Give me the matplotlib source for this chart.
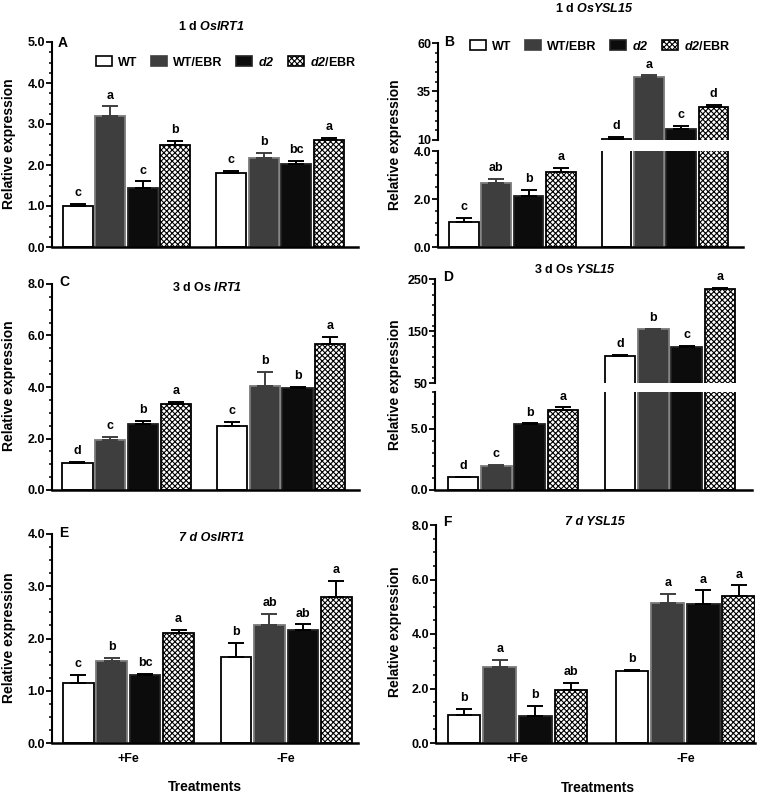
import matplotlib
matplotlib.use('Agg')
import matplotlib.pyplot as plt
from matplotlib.ticker import MultipleLocator, FixedLocator, FormatStrFormatter
from matplotlib.patches import Patch

plt.rcParams['font.family'] = ['Liberation Sans', 'DejaVu Sans']
plt.rcParams['font.weight'] = 'bold'
plt.rcParams['mathtext.fontset'] = 'custom'
plt.rcParams['mathtext.rm'] = 'Liberation Sans:bold'
plt.rcParams['mathtext.it'] = 'Liberation Sans:bold:italic'
plt.rcParams['mathtext.sf'] = 'Liberation Sans:bold:italic'
plt.rcParams['mathtext.bf'] = 'Liberation Sans:bold'
plt.rcParams['hatch.linewidth'] = 0.8

# ---------------- data ----------------
groups = ['+Fe', '-Fe']
series = ['WT', 'WT/EBR', 'd2', 'd2/EBR']
series_labels = ['WT', 'WT/EBR', r'$\mathsf{d2}$', r'$\mathsf{d2}$/EBR']

# order: +Fe (WT, WT/EBR, d2, d2/EBR), -Fe (WT, WT/EBR, d2, d2/EBR)
A_mean = [1.00, 3.20, 1.45, 2.50, 1.80, 2.18, 2.03, 2.60]
A_err = [0.05, 0.23, 0.15, 0.08, 0.05, 0.12, 0.07, 0.06]
A_let = ['c', 'a', 'c', 'b', 'c', 'b', 'bc', 'a']

B_mean = [1.05, 2.65, 2.13, 3.12, 10.4, 42.6, 15.7, 27.2]
B_err = [0.15, 0.17, 0.25, 0.18, 1.4, 0.7, 1.7, 0.7]
B_let = ['c', 'ab', 'b', 'a', 'd', 'a', 'c', 'd']

C_mean = [1.06, 1.94, 2.55, 3.35, 2.50, 4.05, 3.96, 5.68]
C_err = [0.04, 0.13, 0.14, 0.08, 0.15, 0.54, 0.05, 0.27]
C_let = ['d', 'c', 'b', 'a', 'c', 'b', 'b', 'a']

D_mean = [1.03, 1.97, 5.38, 6.54, 102.3, 153.9, 119.7, 230.6]
D_err = [0.05, 0.08, 0.05, 0.20, 1.5, 0.6, 2.0, 2.5]
D_let = ['d', 'c', 'b', 'a', 'd', 'b', 'c', 'a']

E_mean = [1.14, 1.57, 1.31, 2.11, 1.64, 2.25, 2.16, 2.79]
E_err = [0.16, 0.05, 0.02, 0.06, 0.27, 0.22, 0.11, 0.32]
E_let = ['c', 'b', 'bc', 'a', 'b', 'ab', 'ab', 'a']

F_mean = [1.02, 2.78, 0.99, 1.95, 2.65, 5.13, 5.09, 5.39]
F_err = [0.24, 0.28, 0.36, 0.26, 0.04, 0.35, 0.51, 0.39]
F_let = ['b', 'a', 'b', 'ab', 'b', 'a', 'a', 'a']

# ---------------- style ----------------
FACE = ['white', '#3e3e3e', '#0c0c0c', 'white']
EDGE = ['black', '#7a7a7a', '#222222', 'black']
HATCH = [None, None, None, 'xxxxxx']
ERRC = ['black', '#3e3e3e', 'black', 'black']
PITCH = 0.212
WIDTH = 0.195
OFFS = [(-1.5 + i) * PITCH for i in range(4)]
FS = 9

W, H = 771, 795
fig = plt.figure(figsize=(W / 100, H / 100), dpi=100)


def ax_at(l, t, r, b):
    return fig.add_axes([l / W, 1 - b / H, (r - l) / W, (b - t) / H])


def style(ax, bottom=True):
    for s in ['top', 'right']:
        ax.spines[s].set_visible(False)
    ax.spines['left'].set_linewidth(1.5)
    ax.spines['bottom'].set_linewidth(1.8)
    if not bottom:
        ax.spines['bottom'].set_visible(False)
    ax.tick_params(axis='y', which='major', direction='out', length=4, width=1.3,
                   labelsize=FS, pad=1)
    ax.tick_params(axis='y', which='minor', direction='out', length=2.5, width=1.1)
    ax.tick_params(axis='x', which='both', length=0, labelbottom=False)
    ax.set_facecolor('none')


def draw(ax, mean, err):
    for g in range(2):
        for s in range(4):
            i = g * 4 + s
            x = g + OFFS[s]
            ax.bar(x, mean[i], width=WIDTH, color=FACE[s], edgecolor=EDGE[s],
                   hatch=HATCH[s], linewidth=1.3, zorder=2)
            ax.errorbar(x, mean[i], yerr=[[0], [err[i]]], fmt='none', ecolor=ERRC[s],
                        elinewidth=1.4, capsize=6, capthick=1.4, zorder=3)


def letters(ax, mean, err, let, idx, off=3.5):
    for i in idx:
        g, s = divmod(i, 4)
        x = g + OFFS[s]
        ax.annotate(let[i], (x, mean[i] + err[i]), xytext=(0, off),
                    textcoords='offset points', ha='center', va='bottom',
                    fontsize=FS, fontweight='bold')


def ylab(x, y):
    fig.text(x / W, 1 - y / H, 'Relative expression', rotation=90, ha='center',
             va='center', fontsize=10, fontweight='bold')


def ftext(x, y, s, **kw):
    fig.text(x / W, 1 - y / H, s, ha=kw.pop('ha', 'center'), va='center',
             fontsize=kw.pop('fontsize', FS), fontweight='bold', **kw)


ALL = range(8)

# ---------------- A ----------------
axA = ax_at(52, 42, 358, 247)
style(axA)
draw(axA, A_mean, A_err)
letters(axA, A_mean, A_err, A_let, ALL)
axA.set_xlim(-0.485, 1.508)
axA.set_ylim(0, 5)
axA.yaxis.set_major_locator(MultipleLocator(1))
axA.yaxis.set_minor_locator(MultipleLocator(0.25))
axA.yaxis.set_major_formatter(FormatStrFormatter('%.1f'))

# ---------------- B (broken) ----------------
axBu = ax_at(438, 43, 743, 140)
axBl = ax_at(438, 151, 743, 247)
style(axBu, bottom=False)
style(axBl)
for ax in (axBu, axBl):
    draw(ax, B_mean, B_err)
    ax.set_xlim(-0.487, 1.511)
axBu.set_ylim(10, 60)
axBu.yaxis.set_major_locator(FixedLocator([10, 35, 60]))
axBu.yaxis.set_minor_locator(MultipleLocator(5))
axBu.yaxis.set_major_formatter(FormatStrFormatter('%d'))
axBl.set_ylim(0, 4)
axBl.yaxis.set_major_locator(MultipleLocator(2))
axBl.yaxis.set_minor_locator(MultipleLocator(0.5))
axBl.yaxis.set_major_formatter(FormatStrFormatter('%.1f'))
letters(axBl, B_mean, B_err, B_let, range(4))
letters(axBu, B_mean, B_err, B_let, range(4, 8))

# ---------------- C ----------------
axC = ax_at(52, 284, 359, 490)
style(axC)
draw(axC, C_mean, C_err)
letters(axC, C_mean, C_err, C_let, ALL)
axC.set_xlim(-0.483, 1.504)
axC.set_ylim(0, 8)
axC.yaxis.set_major_locator(MultipleLocator(2))
axC.yaxis.set_minor_locator(MultipleLocator(0.5))
axC.yaxis.set_major_formatter(FormatStrFormatter('%.1f'))

# ---------------- D (broken) ----------------
axDu = ax_at(435, 279, 752, 383)
axDl = ax_at(435, 392, 752, 490)
style(axDu, bottom=False)
style(axDl)
for ax in (axDu, axDl):
    draw(ax, D_mean, D_err)
    ax.set_xlim(-0.497, 1.522)
axDu.set_ylim(50, 250)
axDu.yaxis.set_major_locator(FixedLocator([50, 150, 250]))
axDu.yaxis.set_minor_locator(MultipleLocator(20))
axDu.yaxis.set_major_formatter(FormatStrFormatter('%d'))
axDl.set_ylim(0, 8)
axDl.yaxis.set_major_locator(FixedLocator([0, 5]))
axDl.yaxis.set_minor_locator(MultipleLocator(1))
axDl.yaxis.set_major_formatter(FormatStrFormatter('%.1f'))
letters(axDl, D_mean, D_err, D_let, range(4))
letters(axDu, D_mean, D_err, D_let, range(4, 8))

# ---------------- E ----------------
axE = ax_at(52, 534, 358, 743)
style(axE)
draw(axE, E_mean, E_err)
letters(axE, E_mean, E_err, E_let, ALL)
axE.set_xlim(-0.484, 1.455)
axE.set_ylim(0, 4)
axE.yaxis.set_major_locator(MultipleLocator(1))
axE.yaxis.set_minor_locator(MultipleLocator(0.25))
axE.yaxis.set_major_formatter(FormatStrFormatter('%.1f'))

# ---------------- F ----------------
axF = ax_at(436, 525, 755, 743)
style(axF)
draw(axF, F_mean, F_err)
letters(axF, F_mean, F_err, F_let, ALL)
axF.set_xlim(-0.485, 1.414)
axF.set_ylim(0, 8)
axF.yaxis.set_major_locator(MultipleLocator(2))
axF.yaxis.set_minor_locator(MultipleLocator(0.5))
axF.yaxis.set_major_formatter(FormatStrFormatter('%.1f'))

for ax in (axE, axF):
    ax.set_xticks([0, 1])
    ax.set_xticklabels(groups)
    ax.tick_params(axis='x', labelbottom=True, labelsize=FS, pad=7)

# ---------------- text ----------------
ylab(9, 144)
ylab(9, 386)
ylab(9, 638)
ylab(395, 145)
ylab(395, 385)
ylab(395, 632)

ftext(211, 26, r'1 d $\mathsf{OsIRT1}$')
ftext(594, 8, r'1 d $\mathsf{OsYSL15}$')
ftext(207, 288, r'3 d Os $\mathsf{IRT1}$')
ftext(575, 270, r'3 d Os $\mathsf{YSL15}$')
ftext(212, 538, '7 d OsIRT1', style='italic')
ftext(595, 522, '7 d YSL15', style='italic')

for lab, x, y in [('A', 58, 43), ('B', 444, 42), ('C', 59, 282),
                  ('D', 443, 277), ('E', 59, 533), ('F', 443, 522)]:
    ftext(x, y, lab, ha='left', fontsize=10)

ftext(205, 787, 'Treatments', fontsize=10)
ftext(598, 788, 'Treatments', fontsize=10)

# legends
handles = [Patch(facecolor=FACE[s], edgecolor=EDGE[s] if s != 1 else FACE[s],
                 hatch=HATCH[s], linewidth=1.2) for s in range(4)]
for (x, y) in [(96, 62), (470, 46)]:
    fig.legend(handles, series_labels, loc='center left',
               bbox_to_anchor=(x / W, 1 - y / H), ncol=4, frameon=False,
               fontsize=FS, handlelength=1.25, handleheight=0.9,
               handletextpad=0.5, columnspacing=1.1, borderpad=0,
               borderaxespad=0)

fig.savefig('out.png', dpi=100)
